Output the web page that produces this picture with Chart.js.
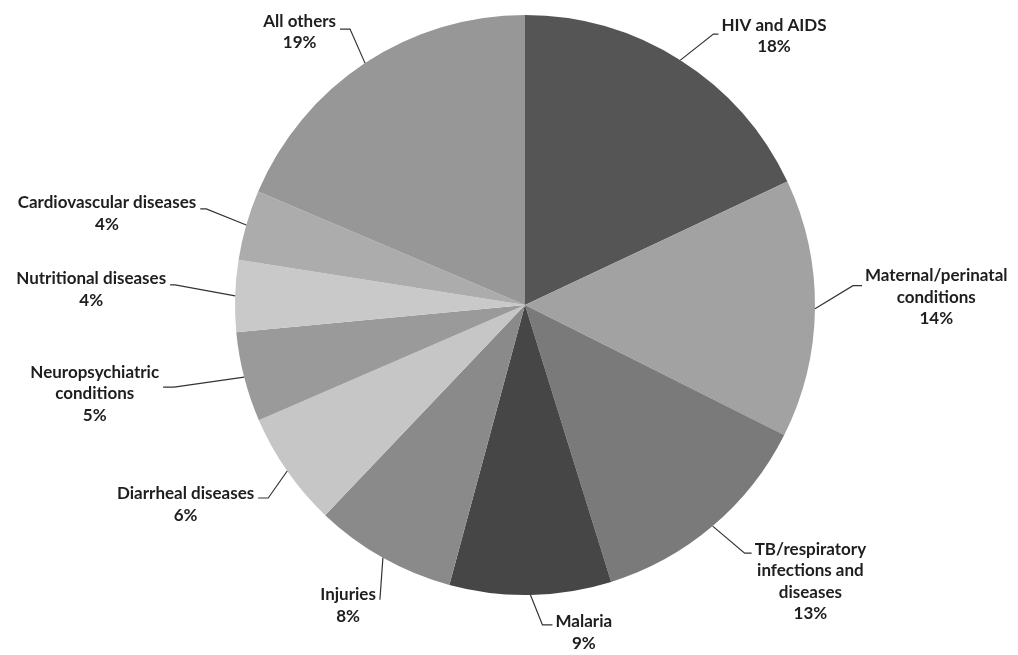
<!DOCTYPE html>
<html>
<head>
<meta charset="utf-8">
<script src="https://cdn.jsdelivr.net/npm/chart.js@4/dist/chart.umd.min.js"></script>
<style>
  html, body { margin: 0; padding: 0; background: #fff; }
  #wrap { width: 1018px; height: 655px; position: relative; }
</style>
</head>
<body>
<div id="wrap"><canvas id="pie"></canvas></div>
<script>
// ---- data ----
const categories = [
  ['HIV and AIDS'],
  ['Maternal/perinatal', 'conditions'],
  ['TB/respiratory', 'infections and', 'diseases'],
  ['Malaria'],
  ['Injuries'],
  ['Diarrheal diseases'],
  ['Neuropsychiatric', 'conditions'],
  ['Nutritional diseases'],
  ['Cardiovascular diseases'],
  ['All others'],
];
const shares = [18.0, 14.4, 12.8, 9.0, 7.9, 6.4, 5.0, 4.0, 3.9, 18.6];

// ---- styles ----
const sliceColors = [
  '#555555', '#a2a2a2', '#7a7a7a', '#464646', '#8a8a8a',
  '#c6c6c6', '#9a9a9a', '#c9c9c9', '#acacac', '#979797',
];

// leader layout per slice: elbow offset from the arc edge, horizontal tail,
// and vertical offset of the first text line from the tail end
const leaders = [
  { elbow: [33, -26], tail: 5, dy: -9 },
  { elbow: [38, -23], tail: 9, dy: -10 },
  { elbow: [32, 27], tail: 7, dy: -4 },
  { elbow: [12, 30], tail: 10, dy: -3 },
  { elbow: [-3, 42], tail: 0, dy: -5 },
  { elbow: [-19, 27], tail: -10, dy: -4 },
  { elbow: [-70, 10], tail: -11, dy: -15 },
  { elbow: [-60, -11], tail: -5, dy: -6 },
  { elbow: [-40, -16], tail: -6, dy: -6 },
  { elbow: [-15, -34], tail: -10, dy: -8 },
];

const FONT = 'bold 17px Lato';
const LINE_H = 21.5;

const outsideLabels = {
  id: 'outsideLabels',
  afterDatasetsDraw(chart) {
    const ctx = chart.ctx;
    const arcs = chart.getDatasetMeta(0).data;
    ctx.save();
    ctx.font = FONT;
    ctx.textBaseline = 'middle';
    ctx.fillStyle = '#1e1e1e';
    ctx.strokeStyle = '#333';
    ctx.lineWidth = 1.2;

    arcs.forEach((arc, i) => {
      const { x, y, outerRadius, startAngle, endAngle } = arc.getProps(['x', 'y', 'outerRadius', 'startAngle', 'endAngle'], true);
      const mid = (startAngle + endAngle) / 2;
      const ex = x + outerRadius * Math.cos(mid);
      const ey = y + outerRadius * Math.sin(mid);
      const L = leaders[i];
      const bx = ex + L.elbow[0], by = ey + L.elbow[1];
      const tx = bx + L.tail, ty = by;

      ctx.beginPath();
      ctx.moveTo(ex, ey);
      ctx.lineTo(bx, by);
      ctx.lineTo(tx, ty);
      ctx.stroke();

      const lines = categories[i].concat([Math.round(shares[i]) + '%']);
      const w = Math.max(...lines.map(s => ctx.measureText(s).width));
      const right = tx > x || (L.tail === 0 && L.elbow[0] > 0);
      const left = right ? tx + 3 : tx - 4 - w;
      const cxText = left + w / 2;
      ctx.textAlign = 'center';
      lines.forEach((s, k) => {
        ctx.fillText(s, cxText, ty + L.dy + k * LINE_H);
      });
    });
    ctx.restore();
  }
};

new Chart(document.getElementById('pie'), {
  type: 'pie',
  data: {
    labels: categories.map(c => c.join(' ')),
    datasets: [{
      data: shares,
      backgroundColor: sliceColors,
      borderWidth: 0,
      hoverOffset: 0,
    }]
  },
  options: {
    responsive: true,
    maintainAspectRatio: false,
    animation: false,
    layout: { padding: { left: 32, right: 0, top: 15, bottom: 60 } },
    plugins: {
      legend: { display: false },
      tooltip: { enabled: false },
    },
  },
  plugins: [outsideLabels],
});
</script>
</body>
</html>
